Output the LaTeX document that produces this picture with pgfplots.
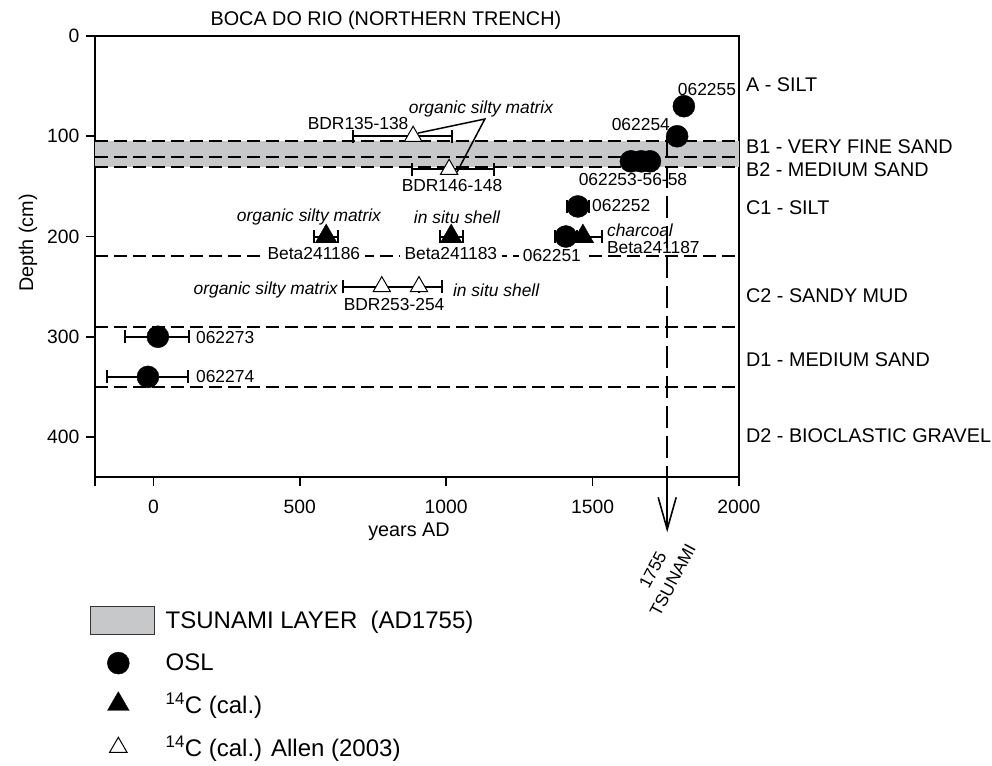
\documentclass[border=0pt]{standalone}
\usepackage{pgfplots}
\pgfplotsset{compat=1.18}
\usepackage{fontspec}
\setmainfont{Liberation Sans}
\usetikzlibrary{arrows.meta}
\definecolor{bandgray}{RGB}{199,200,202}
\newcommand{\bigfont}{\fontsize{19.8bp}{23bp}\selectfont}
\newcommand{\tickfont}{\fontsize{19.3bp}{23bp}\selectfont}
\newcommand{\legfont}{\fontsize{24bp}{28bp}\selectfont}
\newcommand{\lblfont}{\fontsize{17.4bp}{22.5bp}\selectfont}
\begin{document}
\begin{tikzpicture}
\begin{axis}[
  x=0.2927bp, y=1.0025bp, y dir=reverse,
  xmin=-200, xmax=2000, ymin=0, ymax=440,
  axis line style={line width=1.8bp},
  xtick={-200,0,500,1000,1500,2000},
  xticklabels={,0,500,1000,1500,2000},
  ytick={0,100,200,300,400},
  xtick pos=bottom, ytick pos=left,
  tick align=outside,
  major tick length=9bp,
  tick style={line width=1.8bp, black},
  ticklabel style={font=\tickfont},
  xticklabel style={yshift=-10bp},
  yticklabel style={xshift=-3bp},
  /pgf/number format/assume math mode=true,
  clip=false,
  legend style={at={(-0.0078,-0.2925)}, anchor=north west, draw=none, fill=none,
    inner sep=0pt, outer sep=0pt, row sep=17bp, column sep=9bp, font=\legfont},
  legend cell align=left,
  mlegend/.style={legend image code/.code={\path (0bp,0bp) (64bp,0bp);
     \draw[mark repeat=2,mark phase=2,##1] plot coordinates {(0bp,0bp) (28bp,0bp) (56bp,0bp)};}},
  hdash/.style={forget plot, black, line width=1.8bp, dash pattern=on 13bp off 6bp},
  ebar/.style={error bars/.cd, x dir=both, x explicit,
     error mark=|,
     error bar style={line width=2bp, black, solid},
     error mark options={mark size=6.5bp, line width=2bp, black, solid}},
]
% tsunami band
\addplot[fill=bandgray, draw=none, area legend,
  legend image code/.code={\draw[fill=bandgray,draw=black!80,line width=0.8bp] (0bp,-14bp) rectangle (64bp,14bp);}]
  coordinates {(-200,105) (2000,105) (2000,131) (-200,131)} -- cycle;
\addlegendentry{TSUNAMI LAYER\ \ (AD1755)}
% dashed layer boundaries
\addplot[hdash] coordinates {(-200,105) (2000,105)};
\addplot[hdash] coordinates {(-200,121) (2000,121)};
\addplot[hdash] coordinates {(-200,131) (2000,131)};
\addplot[hdash] coordinates {(-200,219.6) (2000,219.6)};
\addplot[hdash] coordinates {(-200,290) (2000,290)};
\addplot[hdash] coordinates {(-200,350) (2000,350)};
% 1755 vertical line
\addplot[forget plot, black, line width=1.8bp, dash pattern=on 22bp off 8bp] coordinates {(1755,100) (1755,450)};
\draw[line width=1.6bp, -{Straight Barb[length=32bp,width=18bp]}] (axis cs:1755,449) -- (axis cs:1755,495);
% leader lines
\draw[line width=1.5bp] (axis cs:904,96.8) -- (axis cs:1132,82.8) -- (axis cs:1037,135.7);
% OSL
\addplot[mlegend, only marks, mark=*, mark size=11bp, black, ebar]
 table[x=x, y=y, x error plus=ep, x error minus=em] {
 x y ep em
 1812 70 0 0
 1789 100 0 0
 1631 125 0 0
 1666 125 0 0
 1696 125 0 0
 1450 170 37 37
 1409 200 38 38
 15 300 106 112
 -19 340 137 140
 };
\addlegendentry{OSL}
% 14C
\addplot[mlegend, only marks, mark=triangle*, mark size=12.5bp, black, ebar]
 table[x=x, y=y, x error plus=ep, x error minus=em] {
 x y ep em
 590 200 41 41
 1017 200 39 39
 1467 200 65 65
 };
\addlegendentry{\textsuperscript{14}C (cal.)}
% Allen 2003
\addplot[mlegend, only marks, mark=triangle*, mark size=10bp, black, mark options={fill=white, draw=black, line width=1bp}, ebar]
 table[x=x, y=y, x error plus=ep, x error minus=em] {
 x y ep em
 887 100 133 206
 1010 133 153 127
 780 250 127 133
 907 250 78 0
 };
\addlegendentry{\textsuperscript{14}C (cal.) Allen (2003)}
% layer labels
\begin{scope}[every node/.style={font=\bigfont, anchor=west, inner sep=0pt}]
\node at (axis cs:2024,48.9) {A - SILT};
\node at (axis cs:2024,110.7) {B1 - VERY FINE SAND};
\node at (axis cs:2024,133.7) {B2 - MEDIUM SAND};
\node at (axis cs:2024,171.6) {C1 - SILT};
\node at (axis cs:2024,259.4) {C2 - SANDY MUD};
\node at (axis cs:2024,323.2) {D1 - MEDIUM SAND};
\node at (axis cs:2024,399) {D2 - BIOCLASTIC GRAVEL};
\end{scope}
% data labels
\begin{scope}[every node/.style={font=\lblfont, inner sep=0pt}]
\node at (axis cs:1891,52.9) {062255};
\node at (axis cs:1665,87.8) {062254};
\node at (axis cs:1638,143.6) {062253-56-58};
\node[anchor=west] at (axis cs:1498,168.6) {062252};
\node[fill=white, inner xsep=4bp] at (axis cs:1361,218.5) {062251};
\node at (axis cs:1662,193.5) {\itshape charcoal};
\node[anchor=west] at (axis cs:1549,210.5) {Beta241187};
\node[fill=white, inner xsep=5bp] at (axis cs:548,216.5) {Beta241186};
\node[fill=white, inner xsep=5bp] at (axis cs:1016,216.5) {Beta241183};
\node at (axis cs:531,180.5) {\itshape organic silty matrix};
\node at (axis cs:1037,180.5) {\itshape in situ shell};
\node[anchor=east] at (axis cs:630,253.4) {\itshape organic silty matrix};
\node[anchor=west] at (axis cs:1023,253.4) {\itshape in situ shell};
\node at (axis cs:822,268.3) {BDR253-254};
\node at (axis cs:699,86.8) {BDR135-138};
\node at (axis cs:1020,149.6) {BDR146-148};
\node at (axis cs:1119,72.8) {\itshape organic silty matrix};
\node[anchor=west] at (axis cs:145,301.2) {062273};
\node[anchor=west] at (axis cs:145,340.1) {062274};
\node[rotate=62, align=center, font=\lblfont] at (axis cs:1740,537.7) {1755\\TSUNAMI};
\end{scope}
% title and axis titles
\node[font=\bigfont, inner sep=0pt] at (axis cs:794,-16) {BOCA DO RIO (NORTHERN TRENCH)};
\node[font=\bigfont, inner sep=0pt, rotate=90] at (axis cs:-429,206.5) {Depth (cm)};
\node[font=\bigfont, inner sep=0pt] at (axis cs:873,494.8) {years AD};
% picture extent
\coordinate (TL) at (axis cs:-524.4,-35.9);
\coordinate (BR) at (axis cs:2864.7,727.2);
\end{axis}
\useasboundingbox (TL) rectangle (BR);
\end{tikzpicture}
\end{document}
